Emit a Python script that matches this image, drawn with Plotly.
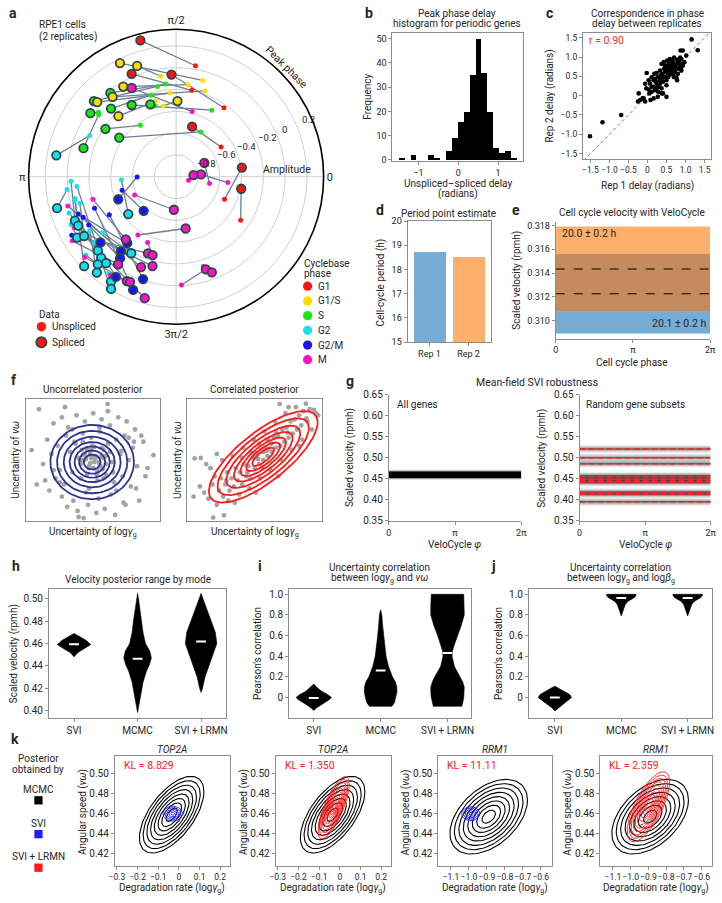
import math
import plotly.graph_objects as go

W, H = 722, 903
FONT = "Roboto"
TXT = "#262626"
AXC = "#8c8c8c"
TWO_PI = 2 * math.pi

# ---------------- panel a : peak phase / amplitude (polar) ----------------
phase_names = ["G1", "G1/S", "S", "G2", "G2/M", "M"]
phase_colors = ["#ff1414", "#ffdc00", "#1ee41e", "#16e0ee", "#1a14f0", "#ff12c8"]
gene_phase = (["G1", "G1/S", "G1/S", "G1", "G1", "G1/S", "M", "S", "G1/S", "S",
               "G1/S", "S", "S", "G1/S", "S", "S", "G1/S", "S", "S", "G2",
               "S", "G1", "M", "M", "M", "G1", "G1", "M", "M", "M", "M"]
              + ["G2"] * 15 + ["G2/M"] * 9 + ["M"] * 9)
spliced_phase = [104.7, 116.3, 109.4, 113.4, 92.6, 120.4, 116.6, 128.1, 128.5, 137.4,
                 136.6, 121.8, 109.6, 89.0, 143.5, 133.7, 133.6, 145.9, 145.6, 169.9,
                 162.9, 72.3, 26.0, 5.2, 5.5, 7.9, 349.5, 266.1, 280.4, 287.8, 290.5,
                 194.8, 218.0, 203.5, 206.5, 211.6, 212.8, 223.4, 239.6, 227.3, 231.0,
                 228.2, 224.2, 230.4, 238.2, 239.9,
                 201.3, 226.4, 221.0, 233.7, 233.5, 235.5, 239.0, 252.1, 249.2,
                 231.2, 249.8, 253.3, 236.5, 248.8, 255.2, 244.7, 246.3, 255.5]
spliced_amp = [0.292, 0.163, 0.077, 0.028, -0.062, -0.042, -0.09, -0.023, -0.064, 0.025,
               -0.004, -0.226, -0.295, -0.306, -0.021, -0.136, -0.233, -0.217, -0.367, 0.116,
               -0.111, -0.518, -0.712, -0.771, -0.84, -0.391, -0.393, -0.696, -0.517, -0.108, -0.064,
               0.13, -0.443, 0.012, 0.004, 0.066, 0.004, -0.012, -0.186, 0.014, 0.021,
               0.078, 0.177, 0.141, 0.134, 0.19,
               -0.43, -0.568, -0.08, -0.243, -0.148, -0.093, 0.072, -0.013, 0.111,
               -0.263, -0.251, -0.248, -0.036, -0.111, -0.152, 0.059, 0.053, 0.151]
unspliced_phase = [80.1, 74.6, 98.7, 79.7, 55.3, 82.7, 76.2, 96.5, 71.4, 101.7,
                   94.2, 61.8, 106.5, 100.2, 140.3, 107.2, 105.3, 124.8, 61.0, 154.5,
                   141.4, 33.5, 348.4, 353.5, 343.8, 335.0, 326.0, 203.8, 236.7, 272.8, 286.9,
                   186.7, 183.1, 182.5, 192.1, 204.5, 195.4, 205.6, 217.3, 185.7, 198.7,
                   220.9, 193.1, 212.0, 235.0, 218.9,
                   180.4, 194.0, 209.3, 200.9, 203.6, 209.0, 230.5, 209.6, 201.1,
                   195.2, 221.6, 246.6, 211.7, 195.1, 206.6, 221.4, 236.3, 225.0]
unspliced_amp = [0.033, -0.084, -0.068, -0.195, -0.23, -0.149, -0.385, -0.145, -0.17, -0.154,
                 -0.23, -0.308, -0.323, -0.34, -0.074, -0.217, -0.281, -0.426, -0.53, -0.122,
                 -0.09, -0.506, -0.687, -0.522, -0.881, -0.51, -0.286, -0.584, -0.36, -0.005, -0.14,
                 0.007, -0.497, -0.035, -0.051, 0.059, -0.084, -0.021, -0.153, -0.086, 0.037,
                 0.096, -0.047, -0.065, 0.078, -0.039,
                 -0.642, -0.489, 0.098, -0.039, -0.069, -0.084, 0.005, -0.295, -0.198,
                 -0.209, -0.1, -0.342, 0.119, 0.029, 0.045, 0.117, 0.087, -0.019]
amp_ticks = [-0.8, -0.6, -0.4, -0.2, 0, 0.2]
amp_ticktext = ["−0.8", "−0.6", "−0.4", "−0.2", "0", "0.2"]

# ---------------- panel b : histogram ----------------
hist_bin_centers = [-1.406, -1.110, -0.666, -0.518, -0.222, -0.074, 0.074, 0.222,
                    0.370, 0.518, 0.666, 0.814, 0.962, 1.110, 1.258, 1.406]
hist_counts = [1, 2, 2, 1, 4, 9, 16, 20, 35, 50, 36, 20, 5, 3, 4, 1]
hist_bin_width = 0.148

# ---------------- panel c : replicate correspondence ----------------
rep1_delay = [-1.51, -1.18, -0.69, 1.16, 1.32, 0.87, 0.93, 1.02, -0.02, 0.50, 0.37,
              -0.23, -0.19, -0.25, -0.10, -0.03, -0.06, 0.03, 0.05, 0.11, 0.16,
              0.16, 0.20, 0.24, 0.28, 0.27, 0.33, 0.37, 0.35, 0.41, 0.46,
              0.44, 0.50, 0.54, 0.59, 0.63, 0.65, 0.67, 0.72, 0.76, 0.80,
              0.84, 0.89, 0.91, 0.93, 0.89, 0.80, 0.76, 0.72, 0.61, 0.54,
              0.50, 0.46, 0.41, 0.33, 0.24, 0.20, 0.11, 0.07, 0.03, 0.53,
              0.56, 0.61, 0.67, 0.72, 0.76, 0.70, 0.78, 0.84, 0.86, 0.78,
              0.46, 0.39, 0.47, 0.22, 0.28, 0.41, 0.16, 0.08, -0.13, 0.11,
              0.18, 0.24, 0.33, 0.37, 0.43, 0.52, 0.59, 0.65, 0.70, 0.59,
              0.65, 0.83, 0.89, 0.97, 0.50, 0.37, 0.27, -0.06]
rep2_delay = [-1.05, -0.69, -0.50, 1.46, 1.18, 1.17, 1.17, 1.04, 0.59, -0.03, 0.06,
              0.06, -0.11, -0.15, -0.07, 0.19, 0.31, 0.16, 0.06, 0.10, 0.23,
              0.40, 0.44, 0.31, 0.23, 0.48, 0.40, 0.44, 0.53, 0.48, 0.61,
              0.70, 0.65, 0.74, 0.70, 0.78, 0.65, 0.57, 0.74, 0.82, 0.87,
              0.91, 0.95, 0.82, 0.78, 0.65, 0.57, 0.48, 0.61, 0.55, 0.48,
              0.40, 0.48, 0.36, 0.31, 0.19, 0.14, 0.23, 0.31, 0.40, 0.57,
              0.82, 0.87, 0.87, 0.78, 0.70, 0.48, 0.40, 0.78, 0.99, 0.93,
              0.78, 0.57, 0.74, 0.36, 0.10, 0.06, -0.07, -0.11, -0.07, 0.48,
              0.57, 0.59, 0.65, 0.82, 0.87, 0.91, 0.95, 0.91, 0.99, 0.61,
              0.74, 0.70, 0.74, 0.87, 0.27, 0.19, -0.03, -0.15]
c_ticks = [-1.5, -1.0, -0.5, 0, 0.5, 1.0, 1.5]
c_ticktext = ["−1.5", "−1.0", "−0.5", "0", "0.5", "1.0", "1.5"]
corr_r = 0.90

# ---------------- panel d : period point estimate ----------------
reps = ["Rep 1", "Rep 2"]
rep_colors = ["#77acd5", "#fcb06c"]
period_h = [18.72, 18.50]

# ---------------- panel e : VeloCycle velocity ----------------
vel_mean = [0.31225, 0.31434]          # Rep 1 (blue), Rep 2 (orange)
vel_halfwidth = [0.00335, 0.00358]
vel_labels = ["20.1 ± 0.2 h", "20.0 ± 0.2 h"]
overlap_color = "#c58b5d"

# ---------------- panel f : posterior samples ----------------
fu_x = [-2.60, 0.69, -2.95, -0.46, 2.88, -1.90, -1.50, -1.20, -0.80, -0.40,
        0.00, 0.40, 0.80, 1.20, 1.60, 2.00, 2.30, -2.20, -1.70, -1.30,
        -0.90, -0.50, -0.10, 0.30, 0.70, 1.10, 1.50, 1.90, 2.40, -2.40,
        -2.00, -1.60, -1.10, -0.70, -0.30, 0.10, 0.50, 0.90, 1.30, 1.70,
        2.10, 2.60, -1.80, -1.40, -1.00, -0.60, -0.20, 0.20, 0.60, 1.00,
        1.40, 1.80, -2.10, -1.50, -0.95, -0.35, 0.25, 0.85, 1.45, 2.05,
        -1.25, -0.75, -0.25, 0.15, 0.55, 1.05, 1.55, -0.60, -0.10, 0.35,
        0.80, -0.30, 0.05, 0.45, -0.15, 0.20, -0.45, 0.60, -1.00, 1.10,
        -1.60, 1.70, -2.30, 2.50, -0.85, 0.95, -0.05, 0.15, -0.20, 0.30,
        -0.50, 0.50, -1.35, 1.35, -1.90, 1.95, -0.70, 0.70, -2.70, 2.20,
        0.10, -0.20, 0.30, -0.40, 0.50, -0.60, 0.20, -0.10, 0.40, -0.30,
        0.00, 0.60, -0.50, 0.25, -0.35, 0.45, -0.15, 0.05, -0.55, 0.35]
fu_y = [2.50, 2.75, 0.49, -2.86, 0.24, 1.80, 2.10, 1.60, 2.20, 1.90,
        2.30, 2.00, 1.70, 2.10, 1.90, 1.50, 1.20, 1.00, 0.70, 1.20,
        0.90, 1.30, 1.10, 1.40, 0.80, 1.00, 1.20, 0.60, 0.90, -0.20,
        0.30, -0.50, 0.40, 0.10, 0.60, 0.20, 0.50, -0.10, 0.30, 0.00,
        -0.30, -0.40, -0.90, -1.20, -0.60, -0.90, -0.40, -1.00, -0.70, -1.10,
        -0.80, -1.30, -1.50, -1.80, -2.00, -1.60, -1.90, -1.70, -2.10, -1.40,
        -2.30, -2.50, -2.20, -2.60, -2.40, -2.70, -2.20, -0.20, 0.10, -0.30,
        0.40, 0.50, -0.10, 0.20, 0.30, -0.50, 0.00, -0.20, 1.50, -1.50,
        -1.10, 1.10, -1.00, -0.80, 0.80, -0.60, 0.70, -0.70, -1.40, 1.60,
        0.90, -0.90, 2.60, 0.45, -0.50, 0.90, -2.80, 2.40, -1.20, -2.00,
        0.10, -0.30, -0.20, 0.30, 0.10, 0.00, -0.60, 0.50, 0.60, -0.70,
        -0.40, 0.20, 0.25, -0.10, 0.05, -0.45, -0.15, 0.65, 0.50, 0.15]
fc_x = [-2.85, -2.56, -1.97, -1.46, 2.80, 1.18, 2.42, -2.40, -2.20, -2.00,
        -1.80, -1.70, -1.60, -1.50, -1.40, -1.30, -1.20, -1.10, -1.00, -0.90,
        -0.80, -0.70, -0.60, -0.50, -0.40, -0.30, -0.20, -0.10, 0.00, 0.10,
        0.20, 0.30, 0.40, 0.50, 0.60, 0.70, 0.80, 0.90, 1.00, 1.10,
        1.20, 1.30, 1.40, 1.50, 1.60, 1.70, 1.80, 1.90, 2.00, 2.10,
        2.20, 2.30, 2.50, 2.60, 2.90, -1.90, -1.25, -0.75, -0.25, 0.25,
        0.75, 1.25, 1.75, 2.25, 2.70, -2.10, -1.55, -1.05, -0.55, -0.05,
        0.45, 0.95, 1.45, 1.95, -0.60, -0.20, 0.20, 0.60, 1.00, 0.00,
        0.40, 0.80, 0.35, 0.65, -0.35, 0.15, 1.55, -1.35, 2.45, -2.60,
        -0.95, 0.05, 1.10, -2.30, -1.80, 3.00, -2.90, 1.60, 2.10, 0.55]
fc_y = [0.08, 0.10, -2.83, -2.72, 2.46, 2.75, 2.77, -1.60, -1.90, -1.20,
        -2.20, -1.50, -0.90, -1.80, -1.20, -0.60, -1.50, -0.90, -1.30, -0.40,
        -1.00, -0.60, -1.20, -0.20, -0.80, -0.30, -0.90, 0.10, -0.40, 0.30,
        -0.20, 0.50, 0.00, 0.60, 0.20, 0.90, 0.40, 1.10, 0.60, 1.20,
        0.70, 1.50, 0.90, 1.60, 1.10, 1.90, 1.30, 2.00, 1.50, 2.20,
        1.70, 2.40, 1.90, 2.50, 2.30, -0.80, -2.00, -1.70, -1.40, -0.90,
        -0.50, 0.00, 0.50, 1.00, 1.50, -0.40, 0.00, 0.20, 0.60, 1.00,
        1.40, 1.90, 2.30, 2.60, 0.10, 0.40, 0.80, 1.00, 1.40, 0.20,
        0.40, 0.80, -0.35, 0.55, -0.60, 0.05, 1.35, -1.00, 2.05, -1.30,
        -2.10, -1.60, -0.80, -0.20, 0.30, 2.20, -1.80, 2.60, 0.70, 0.45]
# Gaussian posterior (cx, cy, sx, sy, rho) and Mahalanobis contour levels
f_uncorr_gauss = (-0.05, -0.10, 0.80, 0.73, 0.0)
f_corr_gauss = (0.40, 0.16, 1.03, 0.90, 0.75)
f_levels = [2.5, 2.1, 1.7, 1.35, 1.05, 0.78, 0.5]

# ---------------- panel g : mean-field SVI robustness ----------------
g_all_mean = 0.4595
g_all_sd = 0.0035
g_subset_means = [0.521, 0.500, 0.486, 0.457, 0.452, 0.446, 0.441, 0.418, 0.413, 0.395]
g_subset_sd = 0.004

# ---------------- panels h, i, j : violins ----------------
modes = ["SVI", "MCMC", "SVI + LRMN"]
h_profiles = [
    ([0.448, 0.452, 0.455, 0.459, 0.463, 0.466, 0.469], [0, 4, 10, 17, 12, 6, 0]),
    ([0.398, 0.405, 0.415, 0.425, 0.435, 0.441, 0.447, 0.453, 0.46, 0.47, 0.48, 0.49, 0.50, 0.505],
     [0, 1.5, 3.5, 5.5, 9, 12, 14, 12.5, 8, 5.5, 4.2, 2.5, 1, 0]),
    ([0.416, 0.42, 0.43, 0.44, 0.45, 0.46, 0.47, 0.48, 0.49, 0.50, 0.505],
     [0, 1.5, 4, 7.8, 12, 16, 14.5, 10.5, 6, 2, 0]),
]
h_medians = [0.4594, 0.4464, 0.4618]
i_profiles = [
    ([-0.125, -0.1, -0.06, -0.02, 0.0, 0.03, 0.06, 0.1, 0.13], [0, 3, 9, 16, 18, 14, 8, 3, 0]),
    ([-0.085, -0.05, 0, 0.05, 0.1, 0.15, 0.2, 0.3, 0.4, 0.5, 0.6, 0.7, 0.8, 0.85],
     [11.5, 14, 15.5, 16.5, 16.5, 15, 12, 8, 5.5, 4, 3, 2, 1.2, 0]),
    ([-0.085, -0.05, 0, 0.05, 0.1, 0.15, 0.2, 0.3, 0.4, 0.45, 0.5, 0.6, 0.7, 0.8, 0.9, 1.0],
     [14.5, 15.5, 16.5, 17, 17, 15.5, 13, 7, 4.6, 5, 6.5, 10, 14, 17, 17, 16.5]),
]
i_medians = [-0.005, 0.262, 0.43]
j_profiles = [
    ([-0.13, -0.1, -0.05, 0, 0.03, 0.06, 0.09, 0.11], [0, 3, 10, 17, 15, 10, 4, 0]),
    ([0.79, 0.82, 0.86, 0.9, 0.93, 0.95, 0.97, 0.99, 1.0], [0, 1.2, 2.5, 4, 6.5, 10, 13.5, 15, 15]),
    ([0.79, 0.82, 0.86, 0.9, 0.93, 0.95, 0.97, 0.99, 1.0], [0, 1.2, 2.5, 4, 6.5, 10, 13.5, 15, 15]),
]
j_medians = [0.0, 0.965, 0.965]

# ---------------- panel k : posterior contours ----------------
k_genes = ["TOP2A", "TOP2A", "RRM1", "RRM1"]
k_kl = ["8.829", "1.350", "11.11", "2.359"]
mcmc_top2a = (-0.035, 0.459, 0.060, 0.0148, 0.60)
svi_top2a = (-0.030, 0.460, 0.019, 0.0030, 0.0)
lrmn_top2a = (-0.030, 0.466, 0.029, 0.0120, 0.75)
mcmc_rrm1 = (-0.890, 0.457, 0.083, 0.0144, 0.45)
svi_rrm1 = (-0.990, 0.460, 0.020, 0.0028, 0.0)
lrmn_rrm1 = (-0.900, 0.467, 0.046, 0.0135, 0.70)
mcmc_levels = [0.45, 0.8, 1.1, 1.4, 1.7, 2.0, 2.3, 2.6]
svi_levels = [0.5, 1.0, 1.5, 2.0, 2.5]
lrmn_levels = [0.35, 0.6, 0.85, 1.1, 1.35, 1.6, 1.85, 2.1, 2.35, 2.6]

# =====================================================================
fig = go.Figure()
annotations = []
shapes = []
axes = {}


def xd(a, b):
    return [a / W, b / W]


def yd(a, b):
    return [1 - b / H, 1 - a / H]


def T(x, y, text, size=10, angle=0, xa="center", ya="middle", color=TXT):
    annotations.append(dict(x=x / W, y=1 - y / H, xref="paper", yref="paper", text=text,
                            showarrow=False, textangle=angle, xanchor=xa, yanchor=ya,
                            font=dict(size=size, color=color, family=FONT)))


def circle_px(cx, cy, r, fill, lc=None, lw=0):
    shapes.append(dict(type="circle", xref="paper", yref="paper",
                       x0=(cx - r) / W, x1=(cx + r) / W, y0=1 - (cy + r) / H, y1=1 - (cy - r) / H,
                       fillcolor=fill, line=dict(color=lc or fill, width=lw)))


def square_px(cx, cy, r, fill):
    shapes.append(dict(type="rect", xref="paper", yref="paper",
                       x0=(cx - r) / W, x1=(cx + r) / W, y0=1 - (cy + r) / H, y1=1 - (cy - r) / H,
                       fillcolor=fill, line=dict(color=fill, width=0)))


def make_axes(n, xdom, ydom, xr, yr, mirror=True, xkw=None, ykw=None):
    sx = "" if n == 1 else str(n)
    base = dict(showline=True, linecolor=AXC, linewidth=1, mirror=mirror, ticks="outside",
                ticklen=3, tickwidth=1, tickcolor=AXC, showgrid=False, zeroline=False,
                fixedrange=True, tickangle=0)
    xa = dict(base, domain=xdom, range=xr, anchor="y" + sx,
              tickfont=dict(size=9, color=TXT, family=FONT))
    ya = dict(base, domain=ydom, range=yr, anchor="x" + sx,
              tickfont=dict(size=9, color=TXT, family=FONT))
    if xkw:
        xa.update(xkw)
    if ykw:
        ya.update(ykw)
    axes["xaxis" + sx] = xa
    axes["yaxis" + sx] = ya
    return "x" + sx, "y" + sx


def gauss_contours(p, levels, color, width, xa, ya):
    cx, cy, sx, sy, rho = p
    ts = [i * TWO_PI / 90 for i in range(91)]
    xs, ys = [], []
    for d in levels:
        for t in ts:
            xs.append(cx + d * sx * math.cos(t))
            ys.append(cy + d * sy * (rho * math.cos(t) + math.sqrt(1 - rho * rho) * math.sin(t)))
        xs.append(None)
        ys.append(None)
    fig.add_trace(go.Scatter(x=xs, y=ys, mode="lines", line=dict(color=color, width=width),
                             xaxis=xa, yaxis=ya, hoverinfo="skip"))


def hband(xa, ya, lo, hi, color, x0=0, x1=TWO_PI):
    fig.add_trace(go.Scatter(x=[x0, x1, x1, x0, x0], y=[lo, lo, hi, hi, lo], mode="lines",
                             fill="toself", fillcolor=color, line=dict(width=0),
                             xaxis=xa, yaxis=ya, hoverinfo="skip"))


def violin(xc, ys, dens, scale, xa, ya):
    hw = [d * scale for d in dens]
    xs = [xc - w for w in hw] + [xc + w for w in reversed(hw)]
    yy = list(ys) + list(reversed(ys))
    fig.add_trace(go.Scatter(x=xs + [xs[0]], y=yy + [yy[0]], mode="lines", fill="toself",
                             fillcolor="black", line=dict(color="black", width=0.6),
                             xaxis=xa, yaxis=ya, hoverinfo="skip"))


# ---------------- a ----------------
cmap = dict(zip(phase_names, phase_colors))
lt, lr = [], []
for sp, sa, up, ua in zip(spliced_phase, spliced_amp, unspliced_phase, unspliced_amp):
    lt += [up, sp, None]
    lr += [ua, sa, None]
fig.add_trace(go.Scatterpolar(theta=lt, r=lr, mode="lines", subplot="polar",
                              line=dict(color="#6b7d96", width=1.3), connectgaps=False, hoverinfo="skip"))
fig.add_trace(go.Scatterpolar(theta=unspliced_phase, r=unspliced_amp, mode="markers", subplot="polar",
                              marker=dict(size=5, color=[cmap[g] for g in gene_phase], line=dict(width=0))))
fig.add_trace(go.Scatterpolar(theta=spliced_phase, r=spliced_amp, mode="markers", subplot="polar",
                              marker=dict(size=8.5, color=[cmap[g] for g in gene_phase],
                                          line=dict(width=1.8, color="#2b4747"))))

polar = dict(
    domain=dict(x=xd(23, 323), y=yd(23, 323)), bgcolor="white",
    angularaxis=dict(rotation=0, direction="counterclockwise", tickmode="array",
                     tickvals=[0, 90, 180, 270], ticktext=["0", "π/2", "π", "3π/2"],
                     showline=True, linecolor="black", linewidth=1.6, gridcolor="#cfcfcf",
                     gridwidth=1, ticks="", tickfont=dict(size=11, color=TXT, family=FONT)),
    radialaxis=dict(range=[-1.0, 0.353], tickmode="array", tickvals=amp_ticks,
                    showticklabels=False, angle=24, showline=False, gridcolor="#cfcfcf",
                    gridwidth=1, ticks=""),
)
# radial tick labels, placed beside each grid circle along the 24-degree direction
amp_label_pos = [(204, 160), (224, 150.7), (245, 142.3), (266, 133.3), (283, 125), (307.5, 115)]
for (px, py), lab in zip(amp_label_pos, amp_ticktext):
    T(px, py, lab, 9.5)
T(1, 7, "<b>a</b>", 14, xa="left")
T(32, 19, "RPE1 cells", 10, xa="left")
T(32, 31.5, "(2 replicates)", 10, xa="left")
T(285.5, 62.5, "Peak phase", 10.5, angle=45)
T(286, 165.7, "Amplitude", 10.5)
T(32, 312.3, "Data", 10, xa="left")
circle_px(36, 325, 4.8, phase_colors[0])
T(45, 325, "Unspliced", 10, xa="left")
circle_px(36, 340.7, 5.2, phase_colors[0], "#2b4747", 1.8)
T(45, 341, "Spliced", 10, xa="left")
T(301, 261, "Cyclebase", 10, xa="left")
T(301, 271.5, "phase", 10, xa="left")
for k, (nm, col) in enumerate(zip(phase_names, phase_colors)):
    yy = 284 + k * 14.9
    circle_px(306.7, yy, 4.7, col)
    T(315, yy, nm, 10, xa="left")

# ---------------- b ----------------
xb, yb = make_axes(1, xd(393, 526), yd(27, 157), [-1.65, 1.63], [-0.4, 52.5],
                   xkw=dict(tickvals=[-1, 0, 1], ticktext=["−1", "0", "1"]),
                   ykw=dict(tickvals=[0, 10, 20, 30, 40, 50]))
fig.add_trace(go.Bar(x=hist_bin_centers, y=hist_counts, width=hist_bin_width,
                     marker=dict(color="black", line=dict(width=0)), xaxis=xb, yaxis=yb))
T(369, 7, "<b>b</b>", 14)
T(459, 7.5, "Peak phase delay", 10)
T(459, 18, "histogram for periodic genes", 10)
T(368, 92, "Frequency", 10, angle=-90)
T(460, 180, "Unspliced–spliced delay", 10)
T(460, 191, "(radians)", 10)

# ---------------- c ----------------
ctf = dict(size=8.5, color=TXT, family=FONT)
xc, yc = make_axes(2, xd(586.7, 716.7), yd(27.7, 155), [-1.695, 1.664], [-1.64, 1.617],
                   xkw=dict(tickvals=c_ticks, ticktext=c_ticktext, tickfont=ctf),
                   ykw=dict(tickvals=c_ticks, ticktext=c_ticktext, tickfont=ctf))
fig.add_trace(go.Scatter(x=[-2, 2], y=[-2, 2], mode="lines",
                         line=dict(color="#ff3a3a", width=1, dash="dot"), xaxis=xc, yaxis=yc))
fig.add_trace(go.Scatter(x=rep1_delay, y=rep2_delay, mode="markers",
                         marker=dict(size=4.6, color="black"), xaxis=xc, yaxis=yc))
T(553, 7, "<b>c</b>", 14)
T(652, 7.5, "Correspondence in phase", 10)
T(652, 18, "delay between replicates", 10)
T(553, 91, "Rep 2 delay (radians)", 10, angle=-90)
T(652, 182, "Rep 1 delay (radians)", 10)
T(590.5, 35, "r = %.2f" % corr_r, 10.5, xa="left", color="#ff2b2b")

# ---------------- d ----------------
xdd, ydd = make_axes(3, xd(408.3, 492.7), yd(218, 340.7), [-0.56, 1.56], [15, 20],
                     xkw=dict(tickvals=[0, 1], ticktext=reps),
                     ykw=dict(tickvals=[15, 16, 17, 18, 19, 20]))
fig.add_trace(go.Bar(x=[0, 1], y=period_h, width=0.8, marker=dict(color=rep_colors, line=dict(width=0)),
                     xaxis=xdd, yaxis=ydd))
T(380, 207, "<b>d</b>", 14)
T(450, 210, "Period point estimate", 10)
T(381.5, 280, "Cell-cycle period (h)", 10, angle=-90)

# ---------------- e ----------------
xe, ye = make_axes(4, xd(559, 716), yd(219, 337), [0, TWO_PI], [0.30848, 0.31829], mirror=False,
                   xkw=dict(tickvals=[0, math.pi, TWO_PI], ticktext=["0", "π", "2π"]),
                   ykw=dict(tickvals=[0.310, 0.312, 0.314, 0.316, 0.318], tickformat=".3f"))
lows = [m - h for m, h in zip(vel_mean, vel_halfwidth)]
highs = [m + h for m, h in zip(vel_mean, vel_halfwidth)]
hband(xe, ye, lows[0], highs[0], rep_colors[0])
hband(xe, ye, lows[1], highs[1], rep_colors[1])
hband(xe, ye, max(lows), min(highs), overlap_color)
for m in vel_mean:
    fig.add_trace(go.Scatter(x=[0, TWO_PI], y=[m, m], mode="lines",
                             line=dict(color="black", width=1.1, dash="dash"), xaxis=xe, yaxis=ye))
T(519, 207, "<b>e</b>", 14)
T(637, 209, "Cell cycle velocity with VeloCycle", 10)
T(520, 278, "Scaled velocity (rpmh)", 10, angle=-90)
T(637, 361.7, "Cell cycle phase", 10)
T(563, 231, vel_labels[1], 10.5, xa="left")
T(714, 322, vel_labels[0], 10.5, xa="right")

# ---------------- f ----------------
noticks = dict(showticklabels=False, ticks="")
xf1, yf1 = make_axes(5, xd(20.7, 156.7), yd(398.3, 522), [-3.2, 3.2], [-3, 3], xkw=noticks, ykw=noticks)
xf2, yf2 = make_axes(6, xd(184.3, 321.7), yd(398.3, 522), [-3.2, 3.2], [-3, 3], xkw=noticks, ykw=noticks)
fig.add_trace(go.Scatter(x=fu_x, y=fu_y, mode="markers", marker=dict(size=4.8, color="#a3a3a3"),
                         xaxis=xf1, yaxis=yf1))
gauss_contours(f_uncorr_gauss, f_levels, "#2e3192", 1.8, xf1, yf1)
fig.add_trace(go.Scatter(x=fc_x, y=fc_y, mode="markers", marker=dict(size=4.8, color="#a3a3a3"),
                         xaxis=xf2, yaxis=yf2))
gauss_contours(f_corr_gauss, f_levels, "#ff1a1a", 1.8, xf2, yf2)
T(3, 379, "<b>f</b>", 14, xa="left")
T(88.7, 388.3, "Uncorrelated posterior", 10)
T(253, 388.3, "Correlated posterior", 10)
T(10, 460, "Uncertainty of <i>νω</i>", 10, angle=-90)
T(175, 460, "Uncertainty of <i>νω</i>", 10, angle=-90)
T(88.7, 534, "Uncertainty of log<i>γ</i><sub>g</sub>", 10)
T(253, 534, "Uncertainty of log<i>γ</i><sub>g</sub>", 10)

# ---------------- g ----------------
gx = dict(tickvals=[0, math.pi, TWO_PI], ticktext=["0", "π", "2π"])
gy = dict(tickvals=[0.35, 0.40, 0.45, 0.50, 0.55, 0.60, 0.65], tickformat=".2f",
          tickfont=dict(size=10, color=TXT, family=FONT))
xg1, yg1 = make_axes(7, xd(389.3, 524), yd(394, 521.7), [0, TWO_PI], [0.35, 0.65], mirror=False,
                     xkw=gx, ykw=gy)
xg2, yg2 = make_axes(8, xd(583.3, 716.5), yd(394, 521.7), [0, TWO_PI], [0.35, 0.65], mirror=False,
                     xkw=gx, ykw=gy)
for mult, alpha in [(3.6, 0.12), (2.8, 0.3), (2.2, 1.0)]:
    hband(xg1, yg1, g_all_mean - mult * g_all_sd, g_all_mean + mult * g_all_sd,
          "rgba(0,0,0,%.2f)" % alpha)
for m in g_subset_means:
    for mult, alpha in [(2.2, 0.10), (1.5, 0.13), (0.8, 0.2), (0.3, 0.45)]:
        hband(xg2, yg2, m - mult * g_subset_sd, m + mult * g_subset_sd, "rgba(0,0,0,%.2f)" % alpha)
for m in g_subset_means:
    fig.add_trace(go.Scatter(x=[0, TWO_PI], y=[m, m], mode="lines",
                             line=dict(color="#ff1e1e", width=1.5, dash="6px,3px"), xaxis=xg2, yaxis=yg2))
T(350, 380, "<b>g</b>", 14)
T(540, 381.7, "Mean-field SVI robustness", 10.5)
T(395.5, 404, "All genes", 10, xa="left")
T(588, 404, "Random gene subsets", 10, xa="left")
T(350, 458, "Scaled velocity (rpmh)", 10, angle=-90)
T(545, 458, "Scaled velocity (rpmh)", 10, angle=-90)
T(456.5, 546.7, "VeloCycle <i>φ</i>", 10)
T(650, 546.7, "VeloCycle <i>φ</i>", 10)

# ---------------- h, i, j ----------------
catx = dict(tickvals=[0, 1, 2], ticktext=modes, tickfont=dict(size=10, color=TXT, family=FONT))
corr_y = dict(tickvals=[0, 0.2, 0.4, 0.6, 0.8, 1.0], ticktext=["0", "0.2", "0.4", "0.6", "0.8", "1.0"],
              tickfont=dict(size=10, color=TXT, family=FONT))
xh, yh = make_axes(9, xd(43.7, 224.2), yd(591, 721.7), [-0.395, 2.4], [0.393, 0.5088], xkw=catx,
                   ykw=dict(tickvals=[0.40, 0.42, 0.44, 0.46, 0.48, 0.50], tickformat=".2f",
                            tickfont=dict(size=10, color=TXT, family=FONT)))
xi, yi = make_axes(10, xd(287.8, 472.8), yd(591, 721.7), [-0.37, 2.35], [-0.2, 1.05], xkw=catx, ykw=corr_y)
xj, yj = make_axes(11, xd(531.8, 718.2), yd(591, 721.7), [-0.39, 2.37], [-0.2, 1.05], xkw=catx, ykw=corr_y)
for profiles, meds, scale, xa, ya in [(h_profiles, h_medians, 1 / 64.5, xh, yh),
                                      (i_profiles, i_medians, 1 / 68.0, xi, yi),
                                      (j_profiles, j_medians, 1 / 67.5, xj, yj)]:
    for k, (ys, dens) in enumerate(profiles):
        violin(k, ys, dens, scale, xa, ya)
    fig.add_trace(go.Scatter(x=[0, 1, 2], y=meds, mode="markers",
                             marker=dict(symbol="line-ew", size=7, line=dict(color="white", width=2)),
                             xaxis=xa, yaxis=ya))
T(4, 568, "<b>h</b>", 14, xa="left")
T(134, 581.7, "Velocity posterior range by mode", 10)
T(8, 656, "Scaled velocity (rpmh)", 10, angle=-90)
T(258, 568, "<b>i</b>", 14)
T(380, 569, "Uncertainty correlation", 10)
T(380, 580.5, "between log<i>γ</i><sub>g</sub> and <i>νω</i>", 10)
T(256, 656, "Pearson's correlation", 10, angle=-90)
T(496, 568, "<b>j</b>", 14)
T(625, 569, "Uncertainty correlation", 10)
T(625, 580.5, "between log<i>γ</i><sub>g</sub> and log<i>β</i><sub>g</sub>", 10)
T(501, 656, "Pearson's correlation", 10, angle=-90)

# ---------------- k ----------------
ktf = dict(size=8.5, color=TXT, family=FONT)
kx_top = dict(tickvals=[-0.3, -0.2, -0.1, 0, 0.1, 0.2], ticktext=["−0.3", "−0.2", "−0.1", "0", "0.1", "0.2"],
              tickfont=ktf)
kx_rrm = dict(tickvals=[-1.1, -1.0, -0.9, -0.8, -0.7, -0.6],
              ticktext=["−1.1", "−1.0", "−0.9", "−0.8", "−0.7", "−0.6"], tickfont=ktf)
ky = dict(tickvals=[0.42, 0.44, 0.46, 0.48, 0.50], tickformat=".2f",
          tickfont=dict(size=10, color=TXT, family=FONT))
k_dom = [(110.7, 227.3), (274.3, 391), (439.7, 554.8), (604.5, 718.2)]
k_xr = [[-0.31, 0.245], [-0.31, 0.245], [-1.17, -0.54], [-1.17, -0.54]]
k_xt = [kx_top, kx_top, kx_rrm, kx_rrm]
k_sets = [(mcmc_top2a, svi_top2a, "#1f1fff", svi_levels),
          (mcmc_top2a, lrmn_top2a, "#ff1a1a", lrmn_levels),
          (mcmc_rrm1, svi_rrm1, "#1f1fff", svi_levels),
          (mcmc_rrm1, lrmn_rrm1, "#ff1a1a", lrmn_levels)]
for n in range(4):
    xa, ya = make_axes(12 + n, xd(*k_dom[n]), yd(760, 871.7), k_xr[n], [0.4074, 0.518],
                       xkw=k_xt[n], ykw=ky)
    mc, ap, col, lev = k_sets[n]
    gauss_contours(mc, mcmc_levels, "black", 1.1, xa, ya)
    gauss_contours(ap, lev, col, 0.9, xa, ya)
    cxp = (k_dom[n][0] + k_dom[n][1]) / 2
    T(cxp, 753.3, "<i>%s</i>" % k_genes[n], 10)
    T(k_dom[n][0] + 7, 770, "KL = %s" % k_kl[n], 10.5, xa="left", color="#ff2020")
    T(k_dom[n][0] - 32.5, 817, "Angular speed (<i>νω</i>)", 10, angle=-90)
    T(cxp, 894, "Degradation rate (log<i>γ</i><sub>g</sub>)", 10)
T(3, 743, "<b>k</b>", 14, xa="left")
T(33, 762.7, "Posterior", 10)
T(33, 773.5, "obtained by", 10)
T(33, 794, "MCMC", 10)
square_px(33, 805, 4.2, "black")
T(33, 828.3, "SVI", 10)
square_px(33, 839.3, 4.2, "#1f1fff")
T(33, 862.3, "SVI + LRMN", 10)
square_px(33, 873.3, 4.2, "#ff1a1a")

fig.update_layout(width=W, height=H, margin=dict(l=0, r=0, t=0, b=0), showlegend=False,
                  paper_bgcolor="white", plot_bgcolor="white", bargap=0,
                  font=dict(family=FONT, color=TXT, size=10),
                  polar=polar, annotations=annotations, shapes=shapes, **axes)
fig.write_html("out.html", include_plotlyjs=True, config={"displayModeBar": False},
               post_script="document.body.style.margin='0px';document.body.style.overflow='hidden';")
